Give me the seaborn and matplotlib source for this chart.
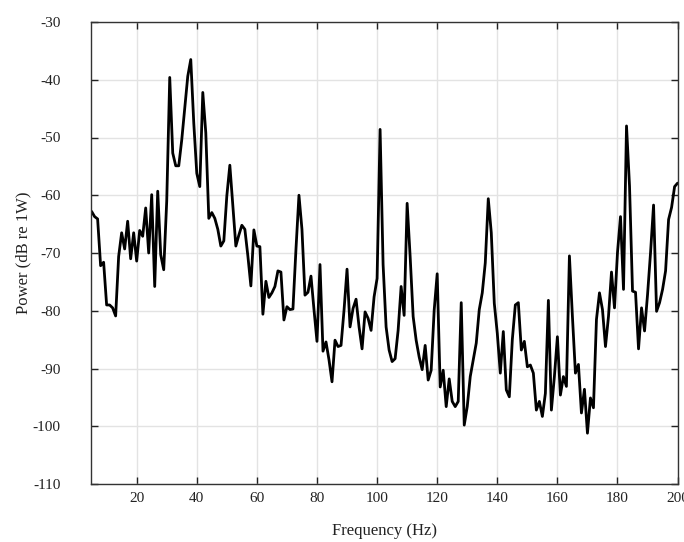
import numpy as np
import pandas as pd
import matplotlib
matplotlib.use("Agg")
import matplotlib.pyplot as plt
import seaborn as sns

# frequency grid (Hz) and power spectrum (dB re 1W)
freq_hz = list(range(5, 201))
power_db = [
    -62.8, -63.7, -64.1, -72.2, -71.6, -79.0, -79.0, -79.5, -80.9, -70.6,   # 5-14
    -66.5, -69.3, -64.5, -71.0, -66.5, -71.4, -66.1, -67.1, -62.2, -70.0,   # 15-24
    -59.9, -75.8, -59.3, -70.3, -72.9, -61.0, -39.6, -52.7, -54.9, -54.9,   # 25-34
    -50.4, -44.9, -39.4, -36.5, -47.5, -56.2, -58.5, -42.2, -49.2, -64.0,   # 35-44
    -63.0, -64.0, -65.9, -68.8, -67.9, -60.1, -54.8, -61.8, -68.8, -66.9,   # 45-54
    -65.2, -65.9, -70.5, -75.7, -66.0, -68.8, -68.9, -80.6, -74.9, -77.7,   # 55-64
    -76.9, -75.8, -73.1, -73.3, -81.6, -79.3, -79.8, -79.7, -69.4, -60.0,   # 65-74
    -65.9, -77.3, -76.8, -74.0, -79.8, -85.3, -72.0, -87.0, -85.4, -88.5,   # 75-84
    -92.3, -85.1, -86.2, -86.0, -79.9, -72.8, -82.8, -79.6, -78.0, -82.8,   # 85-94
    -86.6, -80.2, -81.3, -83.4, -77.6, -74.4, -48.6, -72.0, -82.8, -86.8,   # 95-104
    -88.8, -88.3, -83.4, -75.8, -80.8, -61.4, -70.6, -81.0, -85.1, -88.0,   # 105-114
    -90.2, -86.0, -92.0, -90.3, -79.9, -73.6, -93.2, -90.3, -96.6, -91.8,   # 115-124
    -95.7, -96.6, -95.7, -78.6, -99.8, -96.6, -91.4, -88.5, -85.6, -79.8,   # 125-134
    -76.9, -71.7, -60.6, -66.5, -78.7, -83.9, -90.8, -83.6, -93.7, -94.9,   # 135-144
    -85.0, -79.0, -78.6, -86.8, -85.3, -89.7, -89.4, -90.8, -97.2, -95.7,   # 145-154
    -98.3, -94.3, -78.2, -97.2, -91.4, -84.5, -94.6, -91.4, -93.1, -70.5,   # 155-164
    -81.0, -90.8, -89.3, -97.7, -93.6, -101.2, -95.1, -96.8, -81.5, -76.9,  # 165-174
    -79.8, -86.2, -81.0, -73.3, -79.5, -69.9, -63.7, -76.3, -48.0, -58.4,   # 175-184
    -76.6, -76.8, -86.6, -79.5, -83.5, -77.2, -69.9, -61.7, -80.1, -78.6,   # 185-194
    -76.3, -73.1, -64.2, -62.1, -58.5, -57.9,                               # 195-200
]

x_ticks = [20, 40, 60, 80, 100, 120, 140, 160, 180, 200]
y_ticks = [-110, -100, -90, -80, -70, -60, -50, -40, -30]

sns.set_theme(style="whitegrid")
plt.rcParams["font.family"] = ["Liberation Serif", "DejaVu Serif"]
plt.rcParams["axes.unicode_minus"] = False

df = pd.DataFrame({"freq": freq_hz, "power": power_db})

fig = plt.figure(figsize=(6.84, 5.42), dpi=100)
ax = fig.add_axes([91.3 / 684, 1 - 484 / 542, (677.6 - 91.3) / 684, (484 - 22) / 542])

sns.lineplot(data=df, x="freq", y="power", color="black", linewidth=2.0, ax=ax)

ax.set_xlim(4.9, 200)
ax.set_ylim(-110, -30)
ax.set_xticks(x_ticks)
ax.set_yticks(y_ticks)
ax.set_facecolor("white")
ax.grid(True, color="#e3e3e3", linewidth=1.0)

for side in ["left", "right", "top", "bottom"]:
    ax.spines[side].set_visible(True)
    ax.spines[side].set_color("#333333")
    ax.spines[side].set_linewidth(1.0)

ax.tick_params(axis="both", which="both", direction="in", length=5, width=1,
               color="#222222", top=True, right=True, bottom=True, left=True,
               labelsize=11, labelcolor="#222222")
ax.tick_params(axis="y", pad=22)
ax.tick_params(axis="x", pad=6)

ax.set_xlabel("Frequency (Hz)", fontsize=12, color="#222222", labelpad=13)
ax.set_ylabel("Power (dB re 1W)", fontsize=12, color="#222222", labelpad=1)

fig.savefig("out.png", dpi=100)
